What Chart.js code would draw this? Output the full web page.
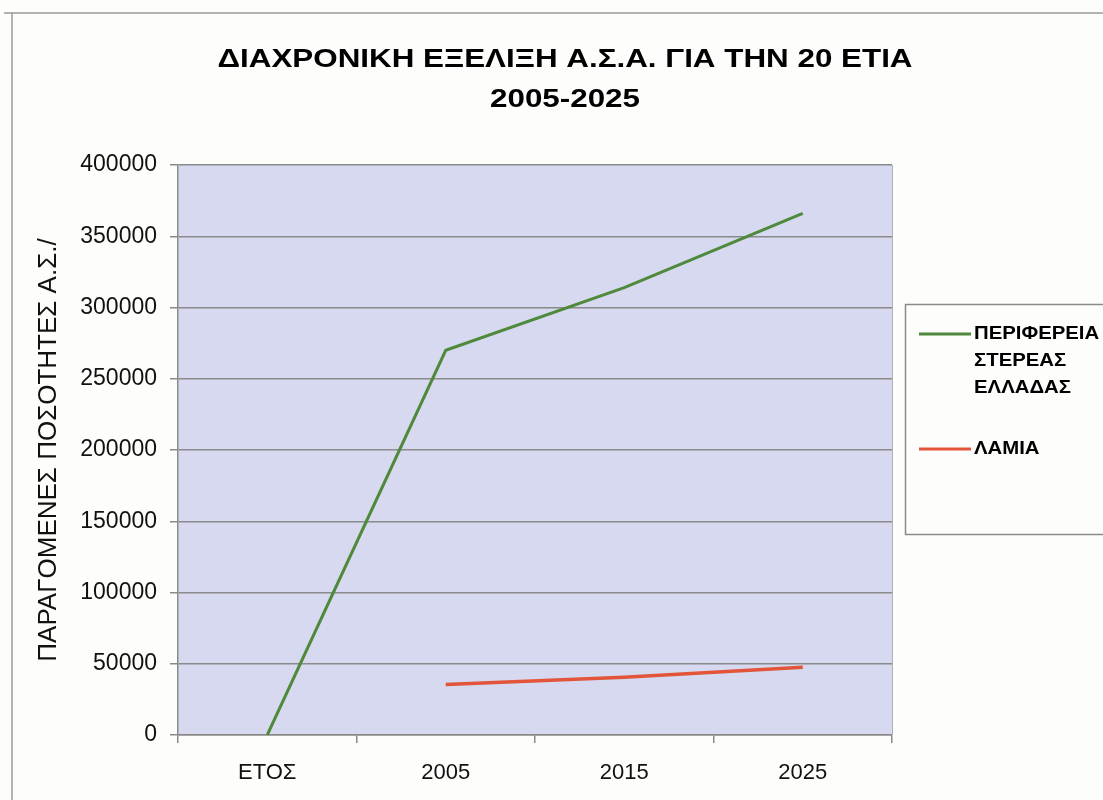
<!DOCTYPE html>
<html>
<head>
<meta charset="utf-8">
<script src="https://cdn.jsdelivr.net/npm/chart.js@4.4.1/dist/chart.umd.min.js"></script>
<style>
  body { margin: 0; background: #fdfdfb; }
  canvas { display: block; }
</style>
</head>
<body>
<canvas id="asaChart" width="1103" height="800"></canvas>
<script>
// chart data
const categories = ['ΕΤΟΣ', '2005', '2015', '2025'];
const regionValues = [0, 270000, 314000, 366000];
const lamiaValues = [null, 35500, 40500, 47500];
const yTicks = [0, 50000, 100000, 150000, 200000, 250000, 300000, 350000, 400000];

const titleLines = ['ΔΙΑΧΡΟΝΙΚΗ ΕΞΕΛΙΞΗ Α.Σ.Α. ΓΙΑ ΤΗΝ 20 ΕΤΙΑ', '2005-2025'];
const yTitle = 'ΠΑΡΑΓΟΜΕΝΕΣ ΠΟΣΟΤΗΤΕΣ Α.Σ./';
const regionLabel = ['ΠΕΡΙΦΕΡΕΙΑ', 'ΣΤΕΡΕΑΣ', 'ΕΛΛΑΔΑΣ'];
const lamiaLabel = ['ΛΑΜΙΑ'];

const green = '#4f8a3c';
const red = '#e2553a';
const font = '"Liberation Sans", Arial, sans-serif';

// draw text stretched sideways, like the scanned original
function wideText(ctx, text, x, y, sx) {
    ctx.save();
    ctx.translate(x, y);
    ctx.scale(sx, 1);
    ctx.fillText(text, 0, 0);
    ctx.restore();
}

// frame, title, plot background and legend box
const decorPlugin = {
    id: 'decor',
    beforeDraw(chart) {
        const ctx = chart.ctx;
        const a = chart.chartArea;
        ctx.save();
        ctx.fillStyle = '#d6d9ef';
        ctx.fillRect(a.left, a.top, a.right - a.left, a.bottom - a.top);
        ctx.restore();
    },
    afterDraw(chart) {
        const ctx = chart.ctx;
        const a = chart.chartArea;
        ctx.save();
        // outer frame
        ctx.strokeStyle = '#9a9a9a';
        ctx.lineWidth = 1.5;
        ctx.beginPath();
        ctx.moveTo(4, 13);
        ctx.lineTo(1103, 13);
        ctx.moveTo(12, 13);
        ctx.lineTo(12, 800);
        ctx.stroke();

        // plot right border
        ctx.strokeStyle = '#b0b0b8';
        ctx.lineWidth = 1;
        ctx.beginPath();
        ctx.moveTo(a.right + 0.5, a.top);
        ctx.lineTo(a.right + 0.5, a.bottom);
        ctx.stroke();

        // title
        ctx.fillStyle = '#000';
        ctx.textAlign = 'center';
        ctx.textBaseline = 'middle';
        ctx.font = 'bold 25px ' + font;
        const sx = 695 / ctx.measureText(titleLines[0]).width;
        wideText(ctx, titleLines[0], 565, 60, sx);
        wideText(ctx, titleLines[1], 565, 100, sx);

        // legend
        ctx.strokeStyle = '#8a8a8a';
        ctx.lineWidth = 1.5;
        ctx.strokeRect(905.5, 304.5, 210, 230);
        const items = [
            { lines: regionLabel, color: chart.data.datasets[0].borderColor, y: 334 },
            { lines: lamiaLabel, color: chart.data.datasets[1].borderColor, y: 449 }
        ];
        ctx.textAlign = 'left';
        ctx.font = 'bold 18px ' + font;
        items.forEach(it => {
            ctx.strokeStyle = it.color;
            ctx.lineWidth = 3;
            ctx.beginPath();
            ctx.moveTo(919, it.y);
            ctx.lineTo(971, it.y);
            ctx.stroke();
            ctx.fillStyle = '#000';
            it.lines.forEach((t, i) => wideText(ctx, t, 974, it.y + i * 27, 1.13));
        });
        ctx.restore();
    }
};

const ctx = document.getElementById('asaChart').getContext('2d');
const chart = new Chart(ctx, {
    type: 'line',
    data: {
        labels: categories,
        datasets: [{
            label: regionLabel.join(' '),
            data: regionValues,
            borderColor: green,
            borderWidth: 3,
            pointRadius: 0,
            tension: 0
        }, {
            label: lamiaLabel.join(' '),
            data: lamiaValues,
            borderColor: red,
            borderWidth: 3.5,
            pointRadius: 0,
            tension: 0
        }]
    },
    options: {
        responsive: false,
        animation: false,
        layout: { padding: { top: 165, right: 211, left: 0, bottom: 0 } },
        plugins: {
            legend: { display: false },
            title: { display: false },
            tooltip: { enabled: false }
        },
        scales: {
            x: {
                offset: true,
                afterFit(scale) { scale.height = 65; },
                grid: {
                    offset: true,
                    drawOnChartArea: false,
                    drawTicks: true,
                    tickLength: 8,
                    color: '#8a8a8a',
                    lineWidth: 1.5
                },
                border: { color: '#8a8a8a', width: 1.5 },
                ticks: {
                    color: '#111',
                    padding: 17,
                    font: { family: font, size: 22 }
                }
            },
            y: {
                min: 0,
                max: 400000,
                afterFit(scale) { scale.width = 178; },
                afterBuildTicks(scale) {
                    scale.ticks = yTicks.map(v => ({ value: v }));
                },
                grid: {
                    color: '#8a8a8a',
                    lineWidth: 1.5,
                    tickLength: 8
                },
                border: { color: '#8a8a8a', width: 1.5 },
                ticks: {
                    color: '#111',
                    padding: 13,
                    font: { family: font, size: 23 },
                    callback: v => String(v)
                },
                title: {
                    display: true,
                    text: yTitle,
                    color: '#111',
                    padding: { top: 33, bottom: 0 },
                    font: { family: font, size: 26 }
                }
            }
        }
    },
    plugins: [decorPlugin]
});
</script>
</body>
</html>
